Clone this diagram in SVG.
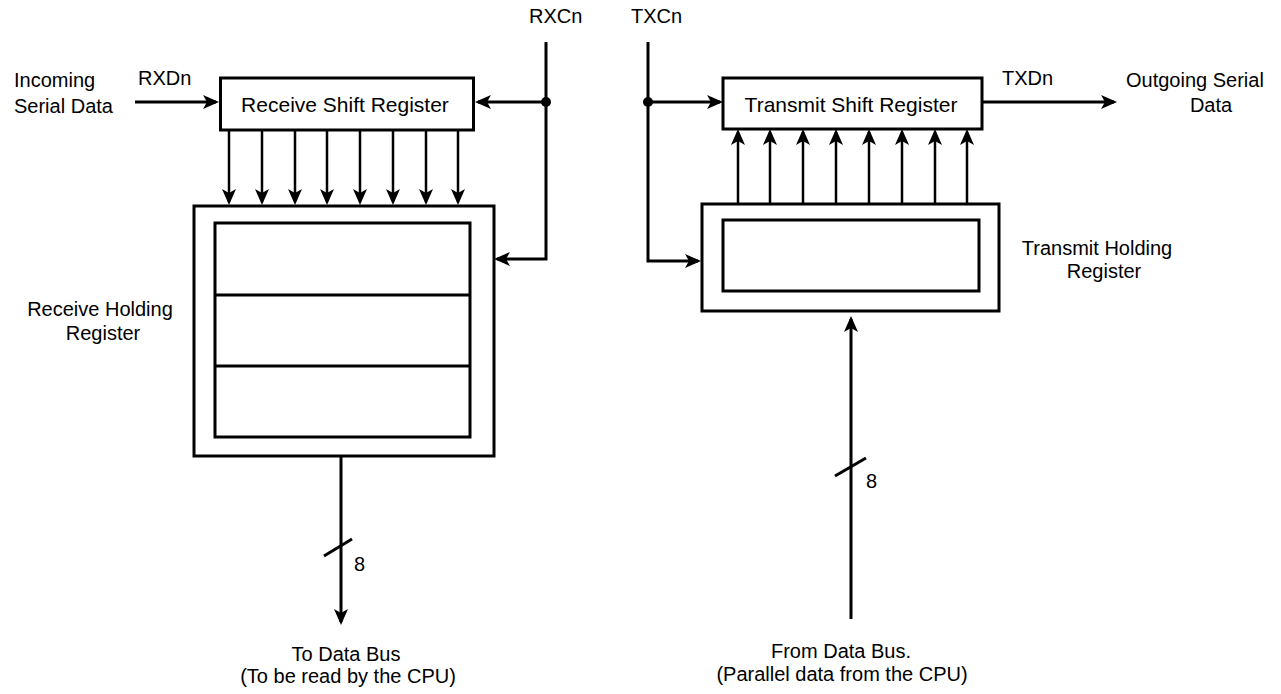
<svg xmlns="http://www.w3.org/2000/svg" width="1281" height="694" viewBox="0 0 1281 694">
<style>
text{font-family:"Liberation Sans",Arial,Helvetica,sans-serif;font-size:20px;fill:#000}
.m{text-anchor:middle}
.big{font-size:21px}
.box{fill:#fff;stroke:#000;stroke-width:3}
.w{fill:none;stroke:#000;stroke-width:3}
.b{fill:none;stroke:#000;stroke-width:2.5}
</style>
<defs>
<marker id="ah" markerUnits="userSpaceOnUse" markerWidth="16" markerHeight="16" viewBox="0 0 16 16" refX="13" refY="8" orient="auto">
<path d="M0,1 L16,8 L0,15 L4,8 Z" fill="#000"/>
</marker>
</defs>
<rect width="1281" height="694" fill="#fff"/>

<g id="connectors">
<path class="w" d="M135,102 H216" marker-end="url(#ah)"/>
<path class="w" d="M546,42 V259 H497" marker-end="url(#ah)"/>
<path class="w" d="M546,102 H478" marker-end="url(#ah)"/>
<circle cx="546" cy="102" r="5"/>
<path class="b" d="M229,130 V202" marker-end="url(#ah)"/>
<path class="b" d="M262,130 V202" marker-end="url(#ah)"/>
<path class="b" d="M295,130 V202" marker-end="url(#ah)"/>
<path class="b" d="M327,130 V202" marker-end="url(#ah)"/>
<path class="b" d="M360,130 V202" marker-end="url(#ah)"/>
<path class="b" d="M393,130 V202" marker-end="url(#ah)"/>
<path class="b" d="M426,130 V202" marker-end="url(#ah)"/>
<path class="b" d="M458,130 V202" marker-end="url(#ah)"/>
<path class="w" d="M341,457 V622" marker-end="url(#ah)"/>
<path class="w" d="M324,556 L352,539"/>

<path class="w" d="M648,42 V261 H698" marker-end="url(#ah)"/>
<path class="w" d="M648,102 H720" marker-end="url(#ah)"/>
<circle cx="648" cy="102" r="5"/>
<path class="w" d="M982,102 H1114" marker-end="url(#ah)"/>
<path class="b" d="M738,203 V132" marker-end="url(#ah)"/>
<path class="b" d="M770,203 V132" marker-end="url(#ah)"/>
<path class="b" d="M803,203 V132" marker-end="url(#ah)"/>
<path class="b" d="M836,203 V132" marker-end="url(#ah)"/>
<path class="b" d="M869,203 V132" marker-end="url(#ah)"/>
<path class="b" d="M902,203 V132" marker-end="url(#ah)"/>
<path class="b" d="M935,203 V132" marker-end="url(#ah)"/>
<path class="b" d="M967,203 V132" marker-end="url(#ah)"/>
<path class="w" d="M851,619 V319" marker-end="url(#ah)"/>
<path class="w" d="M835,476 L866,458"/>
</g>

<g id="receive-shift-register">
<rect class="box" x="220.5" y="78" width="253" height="52"/>
<text class="m big" x="345" y="112">Receive Shift Register</text>
</g>

<g id="receive-holding-register">
<rect class="box" x="194" y="206" width="300" height="250"/>
<rect class="box" x="215" y="223" width="255" height="214"/>
<path class="w" d="M215,295 H470 M215,366 H470"/>
</g>

<g id="transmit-shift-register">
<rect class="box" x="723" y="78" width="259" height="51"/>
<text class="m big" x="851" y="112">Transmit Shift Register</text>
</g>

<g id="transmit-holding-register">
<rect class="box" x="702" y="204" width="297" height="107"/>
<rect class="box" x="723" y="220" width="256" height="71"/>
</g>

<g id="labels">
<text x="14" y="87">Incoming</text>
<text x="14" y="113">Serial Data</text>
<text x="138" y="85">RXDn</text>
<text x="529" y="23">RXCn</text>
<text x="631" y="23">TXCn</text>
<text x="1002" y="85">TXDn</text>
<text x="1126" y="87">Outgoing Serial</text>
<text class="m" x="1211" y="112">Data</text>
<text class="m" x="100" y="316">Receive Holding</text>
<text class="m" x="103" y="340">Register</text>
<text class="m" x="1097" y="255">Transmit Holding</text>
<text class="m" x="1104" y="278">Register</text>
<text x="354" y="571">8</text>
<text x="866" y="488">8</text>
<text class="m" x="346" y="661">To Data Bus</text>
<text class="m" x="348" y="683">(To be read by the CPU)</text>
<text class="m" x="841" y="658">From Data Bus.</text>
<text class="m" x="842" y="681">(Parallel data from the CPU)</text>
</g>
</svg>
